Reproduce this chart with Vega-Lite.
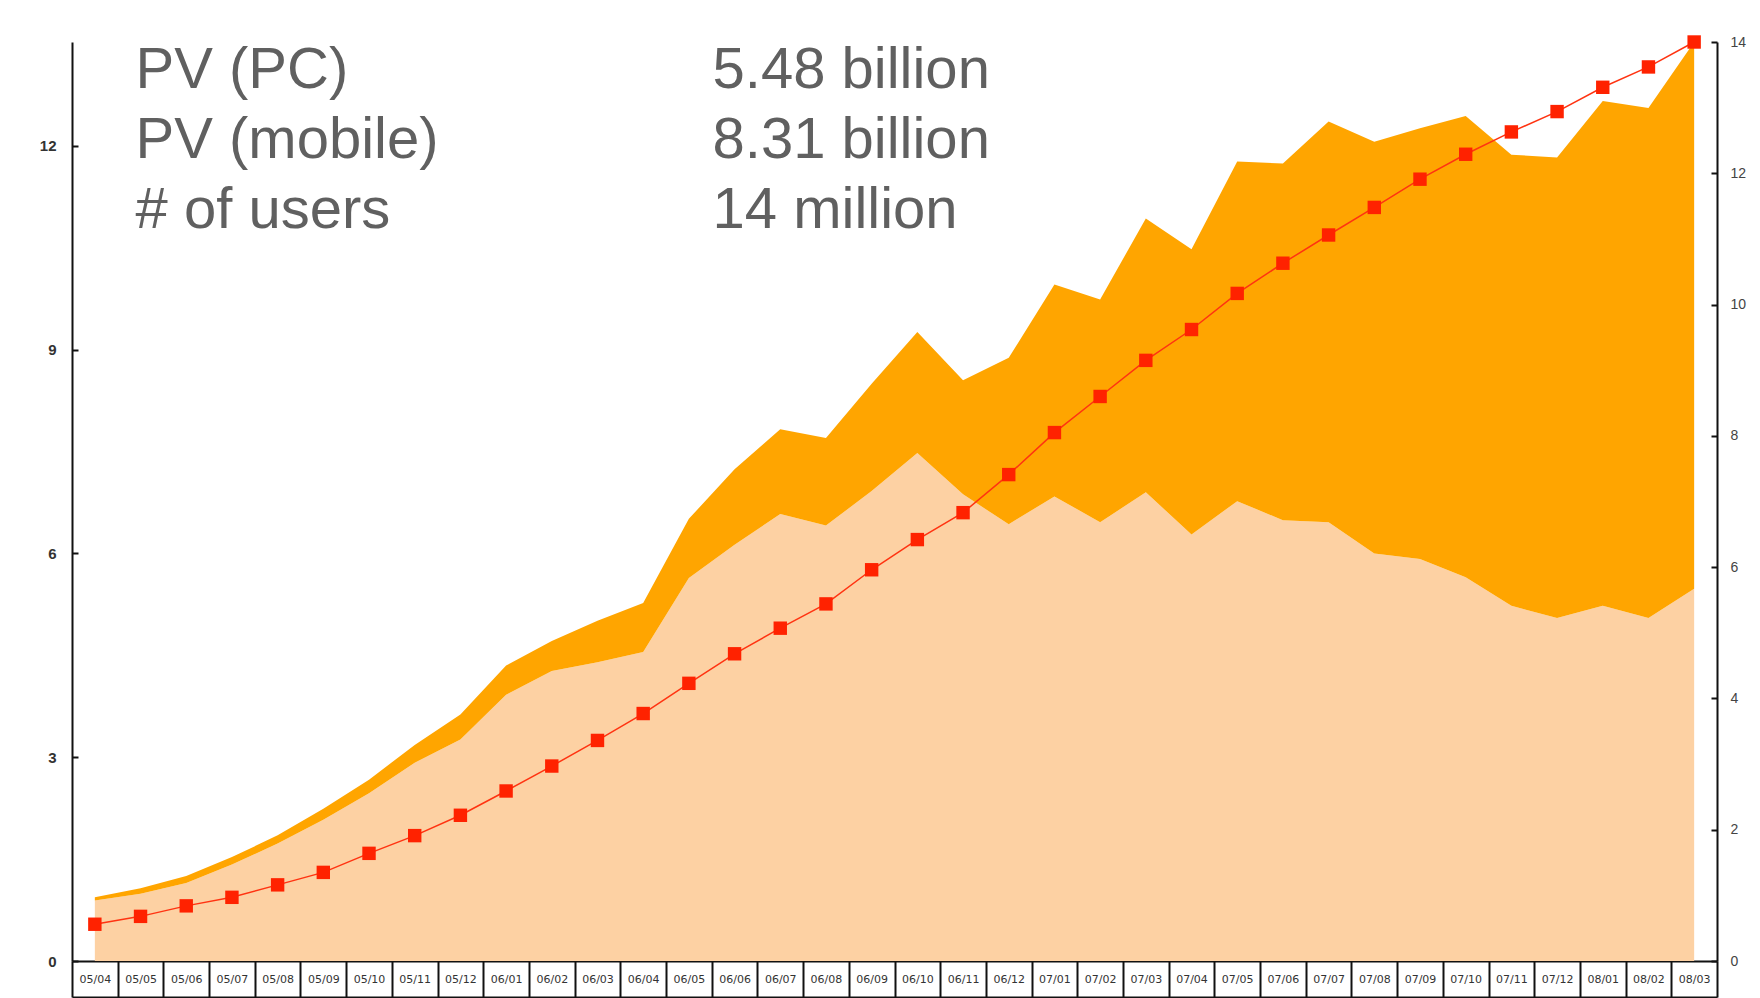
{
  "$schema": "https://vega.github.io/schema/vega-lite/v6.json",
  "width": 1645,
  "height": 919,
  "autosize": {"type": "none"},
  "padding": {"left": 72, "top": 42, "right": 43, "bottom": 37},
  "background": "white",
  "config": {"view": {"stroke": null}, "font": "Liberation Sans"},
  "datasets": {
    "monthly": [
      {"month": "05/04", "pc": 0.89, "mobile": 0.05, "users": 0.56},
      {"month": "05/05", "pc": 0.99, "mobile": 0.08, "users": 0.68},
      {"month": "05/06", "pc": 1.15, "mobile": 0.10, "users": 0.84},
      {"month": "05/07", "pc": 1.42, "mobile": 0.11, "users": 0.97},
      {"month": "05/08", "pc": 1.73, "mobile": 0.12, "users": 1.16},
      {"month": "05/09", "pc": 2.08, "mobile": 0.16, "users": 1.35},
      {"month": "05/10", "pc": 2.47, "mobile": 0.20, "users": 1.64},
      {"month": "05/11", "pc": 2.92, "mobile": 0.26, "users": 1.91},
      {"month": "05/12", "pc": 3.26, "mobile": 0.37, "users": 2.22},
      {"month": "06/01", "pc": 3.92, "mobile": 0.43, "users": 2.59},
      {"month": "06/02", "pc": 4.27, "mobile": 0.44, "users": 2.97},
      {"month": "06/03", "pc": 4.40, "mobile": 0.61, "users": 3.36},
      {"month": "06/04", "pc": 4.55, "mobile": 0.72, "users": 3.77},
      {"month": "06/05", "pc": 5.64, "mobile": 0.87, "users": 4.23},
      {"month": "06/06", "pc": 6.13, "mobile": 1.11, "users": 4.68},
      {"month": "06/07", "pc": 6.58, "mobile": 1.25, "users": 5.07},
      {"month": "06/08", "pc": 6.41, "mobile": 1.29, "users": 5.44},
      {"month": "06/09", "pc": 6.92, "mobile": 1.58, "users": 5.96},
      {"month": "06/10", "pc": 7.48, "mobile": 1.78, "users": 6.42},
      {"month": "06/11", "pc": 6.87, "mobile": 1.68, "users": 6.83},
      {"month": "06/12", "pc": 6.43, "mobile": 2.45, "users": 7.41},
      {"month": "07/01", "pc": 6.84, "mobile": 3.12, "users": 8.05},
      {"month": "07/02", "pc": 6.46, "mobile": 3.28, "users": 8.60},
      {"month": "07/03", "pc": 6.90, "mobile": 4.03, "users": 9.15},
      {"month": "07/04", "pc": 6.28, "mobile": 4.20, "users": 9.62},
      {"month": "07/05", "pc": 6.77, "mobile": 5.00, "users": 10.17},
      {"month": "07/06", "pc": 6.49, "mobile": 5.25, "users": 10.63},
      {"month": "07/07", "pc": 6.46, "mobile": 5.90, "users": 11.06},
      {"month": "07/08", "pc": 6.00, "mobile": 6.06, "users": 11.48},
      {"month": "07/09", "pc": 5.92, "mobile": 6.34, "users": 11.91},
      {"month": "07/10", "pc": 5.65, "mobile": 6.79, "users": 12.29},
      {"month": "07/11", "pc": 5.23, "mobile": 6.64, "users": 12.63},
      {"month": "07/12", "pc": 5.05, "mobile": 6.78, "users": 12.94},
      {"month": "08/01", "pc": 5.23, "mobile": 7.43, "users": 13.31},
      {"month": "08/02", "pc": 5.05, "mobile": 7.51, "users": 13.62},
      {"month": "08/03", "pc": 5.48, "mobile": 8.05, "users": 14.0}
    ],
    "summary": [
      {"metric": "PV (PC)", "amount": "5.48 billion"},
      {"metric": "PV (mobile)", "amount": "8.31 billion"},
      {"metric": "# of users", "amount": "14 million"}
    ]
  },
  "layer": [
    {
      "data": {"name": "monthly"},
      "transform": [{"fold": ["pc", "mobile"], "as": ["series", "value"]}],
      "mark": {"type": "area", "opacity": 1},
      "encoding": {
        "x": {
          "field": "month", "type": "nominal", "sort": null,
          "scale": {"type": "band", "paddingInner": 0, "paddingOuter": 0},
          "axis": {
            "title": null, "orient": "bottom", "tickBand": "extent", "tickSize": 36, "tickWidth": 2,
            "tickColor": "#111111", "domainColor": "#111111", "domainWidth": 2,
            "labelFont": "DejaVu Sans", "labelFontSize": 11, "labelColor": "#333333",
            "labelPadding": -18, "labelBaseline": "middle", "labelAngle": 0, "labelOverlap": false
          }
        },
        "y": {
          "field": "value", "type": "quantitative", "stack": "zero",
          "scale": {"domain": [0, 13.53], "nice": false, "zero": true},
          "axis": {
            "title": null, "orient": "left", "values": [0, 3, 6, 9, 12], "grid": false,
            "domainColor": "#111111", "domainWidth": 2, "tickColor": "#111111", "tickWidth": 2, "tickSize": -6,
            "labelPadding": 22, "labelFontSize": 15, "labelFontWeight": "bold", "labelColor": "#333333"
          }
        },
        "color": {
          "field": "series", "type": "nominal",
          "scale": {"domain": ["pc", "mobile"], "range": ["#FDD1A3", "#FFA500"]},
          "legend": null
        },
        "order": {"field": "series", "sort": "descending"}
      }
    },
    {
      "data": {"name": "monthly"},
      "encoding": {
        "x": {
          "field": "month", "type": "nominal", "sort": null,
          "axis": {
            "title": null, "orient": "bottom", "offset": 36, "labels": false, "ticks": false,
            "domain": true, "domainColor": "#111111", "domainWidth": 2
          }
        },
        "y": {
          "field": "users", "type": "quantitative",
          "scale": {"domain": [0, 14], "nice": false},
          "axis": {
            "title": null, "orient": "right", "values": [0, 2, 4, 6, 8, 10, 12, 14], "grid": false,
            "domainColor": "#111111", "domainWidth": 2, "tickColor": "#111111", "tickWidth": 2, "tickSize": -6,
            "labelPadding": 19, "labelFontSize": 14, "labelColor": "#444444"
          }
        }
      },
      "layer": [
        {"mark": {"type": "line", "color": "#FF3311", "strokeWidth": 1.5}},
        {"mark": {"type": "point", "shape": "square", "filled": true, "size": 180, "color": "#FF2200", "opacity": 1}}
      ]
    },
    {
      "data": {"name": "summary"},
      "encoding": {
        "y": {
          "field": "metric", "type": "nominal", "sort": null,
          "scale": {"type": "point", "domain": ["PV (PC)", "PV (mobile)", "# of users"], "range": [46, 186], "padding": 0},
          "axis": null
        }
      },
      "layer": [
        {
          "mark": {"type": "text", "align": "left", "baseline": "alphabetic", "fontSize": 58, "font": "Liberation Sans", "color": "#606060", "dx": -5},
          "encoding": {
            "x": {"datum": "05/05", "type": "nominal", "axis": null},
            "text": {"field": "metric"}
          }
        },
        {
          "mark": {"type": "text", "align": "left", "baseline": "alphabetic", "fontSize": 58, "font": "Liberation Sans", "color": "#606060", "dx": -22},
          "encoding": {
            "x": {"datum": "06/06", "type": "nominal", "axis": null},
            "text": {"field": "amount"}
          }
        }
      ]
    }
  ],
  "resolve": {"scale": {"y": "independent"}, "axis": {"x": "independent"}}
}
